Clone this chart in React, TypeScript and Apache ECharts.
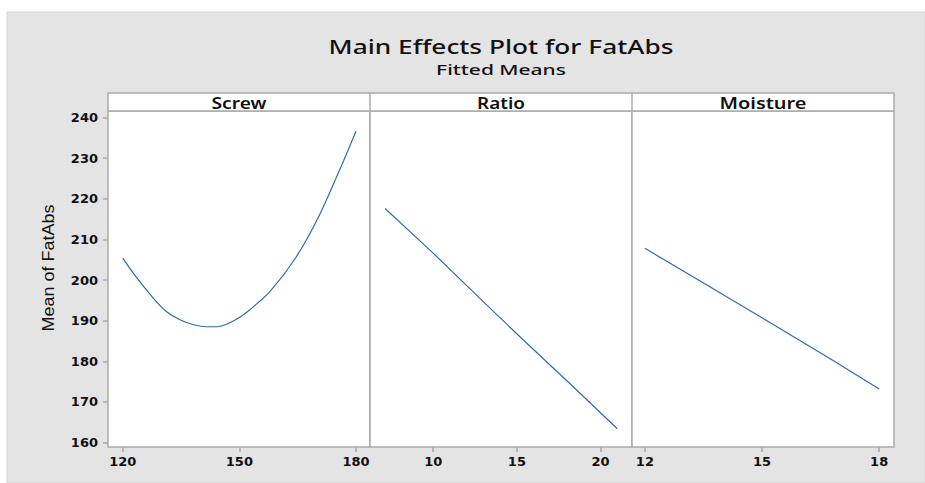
import React, { useEffect, useRef } from "react";
import * as echarts from "echarts";

// ---- data ----
const screwX = [120, 122.7, 127.9, 131.3, 134.7, 138.2, 141.6, 144.2, 146.7, 150.2, 152.7, 157.9, 164.7, 170.6, 176.7, 180];
const screwY = [205.4, 201.7, 195.5, 192.2, 190.2, 189.0, 188.5, 188.5, 189.1, 190.9, 192.7, 197.2, 205.8, 216.0, 229.1, 236.6];
const ratioX = [7.12, 9.9, 12.68, 15.37, 18.35, 21.0];
const ratioY = [217.6, 207.0, 195.9, 185.3, 173.8, 163.4];
const moistX = [12, 13.48, 15.02, 16.82, 18];
const moistY = [207.8, 199.4, 190.6, 180.2, 173.2];

const yTicks = [160, 170, 180, 190, 200, 210, 220, 230, 240];
const screwTicks = [120, 150, 180];
const ratioTicks = [10, 15, 20];
const moistTicks = [12, 15, 18];

const panelNames = ["Screw", "Ratio", "Moisture"];
const titleText = "Main Effects Plot for FatAbs";
const subtitleText = "Fitted Means";
const yLabelText = "Mean of FatAbs";

// ---- layout ----
const W = 925;
const H = 483;
const PL = 108;
const PR = 894;
const PT = 111;
const PB = 447;
const PW = (PR - PL) / 3;
const LINE = "#2d6cb5";
const FRAME = "#ababab";
const TICK = "#a8a8a8";
const TXT = "#111111";

function scaleFor(text: string, font: string, target: number): number {
  const ctx = document.createElement("canvas").getContext("2d");
  if (!ctx) return 1;
  ctx.font = font;
  const w = ctx.measureText(text).width;
  return w > 0 ? target / w : 1;
}

function zip(xs: number[], ys: number[]) {
  return xs.map((x, i) => [x, ys[i]]);
}

export default function App() {
  const ref = useRef<HTMLDivElement>(null);

  useEffect(() => {
    if (!ref.current) return;
    const chart = echarts.init(ref.current, null, { renderer: "svg" });

    const titleFont = { size: 20, family: "Noto Sans", weight: 500 };
    const subFont = { size: 15, family: "Noto Sans", weight: 500 };
    const headFont = { size: 16, family: "Noto Sans", weight: 600 };
    const yFont = { size: 17, family: "Liberation Sans", weight: 400 };
    const f = (o: any) => `${o.weight} ${o.size}px "${o.family}"`;

    const headTargets = [55, 48, 87];

    const xDefs = [
      { min: 116.2, max: 183.6, ticks: screwTicks },
      { min: 6.22, max: 21.88, ticks: ratioTicks },
      { min: 11.67, max: 18.38, ticks: moistTicks },
    ];

    const grids = [0, 1, 2].map((i) => ({
      left: PL + PW * i,
      top: PT,
      width: PW,
      height: PB - PT,
      show: true,
      backgroundColor: "#ffffff",
      borderColor: FRAME,
      borderWidth: 1.5,
      containLabel: false,
    }));

    const labelStyle = {
      color: TXT,
      fontFamily: "DejaVu Sans",
      fontWeight: "bold" as const,
      fontSize: 13,
    };

    const xAxes = xDefs.map((d, i) => ({
      type: "value" as const,
      gridIndex: i,
      min: d.min,
      max: d.max,
      axisLine: { show: false },
      splitLine: { show: false },
      axisTick: { show: true, length: 5, lineStyle: { color: TICK, width: 1.5 }, customValues: d.ticks },
      axisLabel: { ...labelStyle, margin: 8, customValues: d.ticks },
    }));

    const yAxes = [0, 1, 2].map((i) => ({
      type: "value" as const,
      gridIndex: i,
      min: 158.9,
      max: 241.6,
      axisLine: { show: false },
      splitLine: { show: false },
      axisTick: { show: i === 0, length: 5, lineStyle: { color: TICK, width: 1.5 }, customValues: yTicks },
      axisLabel: { ...labelStyle, show: i === 0, margin: 10, customValues: yTicks },
    }));

    const mk = (data: number[][], i: number, smooth: boolean | number) => ({
      type: "line" as const,
      xAxisIndex: i,
      yAxisIndex: i,
      data,
      showSymbol: false,
      smooth,
      lineStyle: { color: LINE, width: 1.2 },
      itemStyle: { color: LINE },
      z: 5,
    });

    const textEl = (text: string, x: number, y: number, font: any, target: number, extra: any = {}) => ({
      type: "text",
      x,
      y,
      scaleX: scaleFor(text, f(font), target),
      ...extra,
      style: {
        text,
        fontSize: font.size,
        fontFamily: font.family,
        fontWeight: font.weight,
        fill: TXT,
        textAlign: "center",
        textVerticalAlign: "middle",
        align: "center",
        verticalAlign: "middle",
      },
      z: 3,
    });

    const headerEls: any[] = [];
    headerEls.push({
      type: "rect",
      shape: { x: PL, y: 93, width: PR - PL, height: PT - 93 },
      style: { fill: "#ffffff", stroke: FRAME, lineWidth: 1.5 },
      z: 1,
    });
    [1, 2].forEach((i) => {
      headerEls.push({
        type: "line",
        shape: { x1: PL + PW * i, y1: 93, x2: PL + PW * i, y2: PT },
        style: { stroke: FRAME, lineWidth: 1.5 },
        z: 2,
      });
    });
    panelNames.forEach((name, i) => {
      headerEls.push(textEl(name, PL + PW * i + PW / 2, 102.5, headFont, headTargets[i]));
    });

    chart.setOption({
      animation: false,
      backgroundColor: "#ffffff",
      grid: grids,
      xAxis: xAxes,
      yAxis: yAxes,
      series: [
        mk(zip(screwX, screwY), 0, 0.3),
        mk(zip(ratioX, ratioY), 1, false),
        mk(zip(moistX, moistY), 2, false),
      ],
      graphic: [
        {
          type: "rect",
          shape: { x: 7, y: 12, width: W - 7, height: H - 12 },
          style: { fill: "#e4e4e4", stroke: "#d6d6d6", lineWidth: 1 },
          z: -10,
          silent: true,
        },
        textEl(titleText, (PL + PR) / 2, 46, titleFont, 345),
        textEl(subtitleText, (PL + PR) / 2, 69.5, subFont, 130),
        textEl(yLabelText, 48, 268, yFont, 127, { rotation: Math.PI / 2 }),
        ...headerEls,
      ],
    });

    return () => chart.dispose();
  }, []);

  return (
    <div
      ref={ref}
      style={{ position: "fixed", left: 0, top: 0, width: W, height: H }}
    />
  );
}
